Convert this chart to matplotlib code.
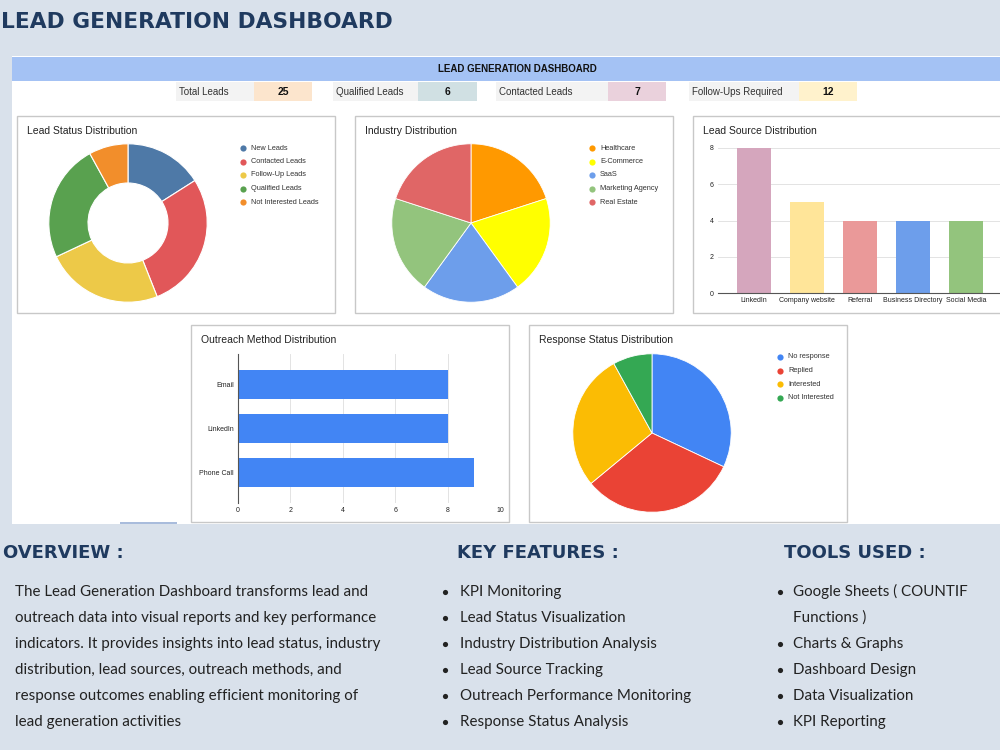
import matplotlib
matplotlib.use("Agg")
import matplotlib.pyplot as plt
from matplotlib.patches import Rectangle

# ---------------- data ----------------
kpi_labels = ["Total Leads", "Qualified Leads", "Contacted Leads", "Follow-Ups Required"]
kpi_values = [25, 6, 7, 12]

status_labels = ["New Leads", "Contacted Leads", "Follow-Up Leads", "Qualified Leads", "Not Interested Leads"]
status_values = [4, 7, 6, 6, 2]

industry_labels = ["Healthcare", "E-Commerce", "SaaS", "Marketing Agency", "Real Estate"]
industry_values = [5, 5, 5, 5, 5]

source_labels = ["LinkedIn", "Company website", "Referral", "Business Directory", "Social Media"]
source_values = [8, 5, 4, 4, 4]

outreach_labels = ["Email", "LinkedIn", "Phone Call"]
outreach_values = [8, 8, 9]

response_labels = ["No response", "Replied", "Interested", "Not Interested"]
response_values = [8, 8, 7, 2]

overview_lines = [
    "The Lead Generation Dashboard transforms lead and",
    "outreach data into visual reports and key performance",
    "indicators. It provides insights into lead status, industry",
    "distribution, lead sources, outreach methods, and",
    "response outcomes enabling efficient monitoring of",
    "lead generation activities",
]
feature_lines = [
    "KPI Monitoring",
    "Lead Status Visualization",
    "Industry Distribution Analysis",
    "Lead Source Tracking",
    "Outreach Performance Monitoring",
    "Response Status Analysis",
]
tool_lines = [
    ("Google Sheets ( COUNTIF", True),
    ("Functions )", False),
    ("Charts & Graphs", True),
    ("Dashboard Design", True),
    ("Data Visualization", True),
    ("KPI Reporting", True),
]

# ---------------- styles ----------------
BG = "#d9e1eb"
NAVY = "#1f3a5f"
SHEET_FONT = "Liberation Sans"
BODY_FONT = "Lato"
status_colors = ["#4e79a7", "#e15759", "#edc948", "#59a14f", "#f28e2b"]
industry_colors = ["#ff9900", "#ffff00", "#6d9eeb", "#93c47d", "#e06666"]
source_colors = ["#d5a6bd", "#ffe599", "#ea9999", "#6d9eeb", "#93c47d"]
response_colors = ["#4285f4", "#ea4335", "#fbbc04", "#34a853"]
kpi_colors = ["#fce5cd", "#d0e0e3", "#ead1dc", "#fff2cc"]

W, H = 1000, 750
fig = plt.figure(figsize=(10, 7.5), dpi=100, facecolor=BG)


def px_axes(x0, y0, x1, y1, z=1):
    return fig.add_axes([x0 / W, 1 - y1 / H, (x1 - x0) / W, (y1 - y0) / H], zorder=z)


canvas = px_axes(0, 0, W, H, z=0)
canvas.set_xlim(0, W)
canvas.set_ylim(H, 0)
canvas.axis("off")
canvas.set_facecolor(BG)

# heading
canvas.text(1, 22, "LEAD GENERATION DASHBOARD", fontsize=15.7, fontweight="heavy",
            color=NAVY, family="DejaVu Sans", va="center", ha="left")

# sheet
canvas.add_patch(Rectangle((12, 56), 990, 468, facecolor="white", edgecolor="none"))
canvas.add_patch(Rectangle((12, 57), 990, 24, facecolor="#a4c2f4", edgecolor="none"))
canvas.add_patch(Rectangle((120, 522), 57, 2, facecolor="#a9bcdc", edgecolor="none"))
canvas.text(517, 69.5, "LEAD GENERATION DASHBOARD", fontsize=7, fontweight="bold",
            family=SHEET_FONT, ha="center", va="center", color="#111111")

# KPI row
kpi_cells = [(176, 254, 312), (333, 418, 477), (496, 608, 666), (689, 799, 857)]
for (lx, vx, ex), lab, val, col in zip(kpi_cells, kpi_labels, kpi_values, kpi_colors):
    canvas.add_patch(Rectangle((lx, 82), vx - lx, 19, facecolor="#f3f3f3", edgecolor="none"))
    canvas.add_patch(Rectangle((vx, 82), ex - vx, 19, facecolor=col, edgecolor="none"))
    canvas.text(lx + 3, 92, lab, fontsize=7, family=SHEET_FONT, va="center", color="#333333")
    canvas.text((vx + ex) / 2, 92, str(val), fontsize=7.5, fontweight="bold",
                family=SHEET_FONT, ha="center", va="center", color="#111111")

# chart boxes
boxes = {
    "status": (17, 116, 335, 313),
    "industry": (355, 116, 673, 313),
    "source": (693, 116, 1003, 313),
    "outreach": (191, 325, 509, 522),
    "response": (529, 325, 847, 522),
}
titles = {
    "status": "Lead Status Distribution",
    "industry": "Industry Distribution",
    "source": "Lead Source Distribution",
    "outreach": "Outreach Method Distribution",
    "response": "Response Status Distribution",
}
for k, (x0, y0, x1, y1) in boxes.items():
    canvas.add_patch(Rectangle((x0, y0), x1 - x0, y1 - y0, facecolor="white",
                               edgecolor="#c8c8c8", lw=1))
    canvas.text(x0 + 10, y0 + 15, titles[k], fontsize=7.5, family=SHEET_FONT,
                va="center", color="#222222")


def legend(x, y, labels, colors, dy=13.5):
    for i, (lab, col) in enumerate(zip(labels, colors)):
        canvas.scatter([x], [y + i * dy], s=20, color=col, zorder=3, linewidths=0)
        canvas.text(x + 8, y + i * dy, lab, fontsize=5.3, family=SHEET_FONT,
                    va="center", color="#333333")


def pie_axes(cx, cy, r):
    a = px_axes(cx - r, cy - r, cx + r, cy + r, z=2)
    a.set_xlim(-1, 1)
    a.set_ylim(-1, 1)
    a.axis("off")
    return a


# Lead Status donut
ax = pie_axes(128, 223, 80)
ax.pie(status_values, colors=status_colors, startangle=90, counterclock=False, radius=0.99,
       wedgeprops=dict(width=0.49, edgecolor="white", linewidth=0.8))
ax.set_xlim(-1, 1); ax.set_ylim(-1, 1)
legend(243, 148, status_labels, status_colors)

# Industry pie
ax = pie_axes(471, 223, 80)
ax.pie(industry_values, colors=industry_colors, startangle=90, counterclock=False, radius=0.99,
       wedgeprops=dict(edgecolor="white", linewidth=0.6))
ax.set_xlim(-1, 1); ax.set_ylim(-1, 1)
legend(592, 148, industry_labels, industry_colors)

# Response pie
ax = pie_axes(652, 433, 80)
ax.pie(response_values, colors=response_colors, startangle=90, counterclock=False, radius=0.99,
       wedgeprops=dict(edgecolor="white", linewidth=0.6))
ax.set_xlim(-1, 1); ax.set_ylim(-1, 1)
legend(780, 357, response_labels, response_colors)

# Lead Source column chart
ax = px_axes(718, 148, 1010, 293, z=2)
ax.bar(range(len(source_values)), source_values, width=0.64, color=source_colors, zorder=2)
ax.set_xlim(-0.68, 4.83)
ax.set_ylim(0, 8)
ax.set_yticks([0, 2, 4, 6, 8])
ax.set_xticks(range(len(source_labels)))
ax.set_xticklabels(source_labels)
ax.grid(axis="y", color="#e3e3e3", lw=0.7, zorder=0)
for s in ["top", "right", "left"]:
    ax.spines[s].set_visible(False)
ax.spines["bottom"].set_color("#555555")
ax.spines["bottom"].set_linewidth(0.8)
ax.tick_params(length=0, labelsize=5, pad=3, colors="#222222")
for t in ax.get_xticklabels() + ax.get_yticklabels():
    t.set_family(SHEET_FONT)
ax.patch.set_alpha(0)

# Outreach horizontal bars
ax = px_axes(238, 354, 500, 503, z=2)
ax.barh(range(len(outreach_values)), outreach_values, height=0.66, color="#4285f4", zorder=2)
ax.set_ylim(2.68, -0.68)
ax.set_xlim(0, 10)
ax.set_xticks([0, 2, 4, 6, 8, 10])
ax.set_yticks(range(len(outreach_labels)))
ax.set_yticklabels(outreach_labels)
ax.grid(axis="x", color="#e3e3e3", lw=0.7, zorder=0)
for s in ["top", "right", "bottom"]:
    ax.spines[s].set_visible(False)
ax.spines["left"].set_color("#555555")
ax.spines["left"].set_linewidth(0.8)
ax.tick_params(length=0, labelsize=5, pad=3, colors="#222222")
for t in ax.get_xticklabels() + ax.get_yticklabels():
    t.set_family(SHEET_FONT)
ax.patch.set_alpha(0)

# bottom text sections
for x, head in [(3, "OVERVIEW :"), (457, "KEY FEATURES :"), (784, "TOOLS USED :")]:
    canvas.text(x, 553, head, fontsize=13, fontweight="heavy", family="DejaVu Sans",
                color=NAVY, va="center")

baselines = [596, 622, 648, 674, 700, 726]
BODY_SIZE = 10.9
for y, line in zip(baselines, overview_lines):
    canvas.text(15, y, line, fontsize=BODY_SIZE, family=BODY_FONT, color="#222222", va="baseline")
for y, line in zip(baselines, feature_lines):
    canvas.scatter([445], [y - 4], s=14, color="#222222", linewidths=0)
    canvas.text(460, y, line, fontsize=BODY_SIZE, family=BODY_FONT, color="#222222", va="baseline")
for y, (line, bullet) in zip(baselines, tool_lines):
    if bullet:
        canvas.scatter([780], [y - 4], s=14, color="#222222", linewidths=0)
    canvas.text(793, y, line, fontsize=BODY_SIZE, family=BODY_FONT, color="#222222", va="baseline")

fig.savefig("out.png", dpi=100, facecolor=BG)
